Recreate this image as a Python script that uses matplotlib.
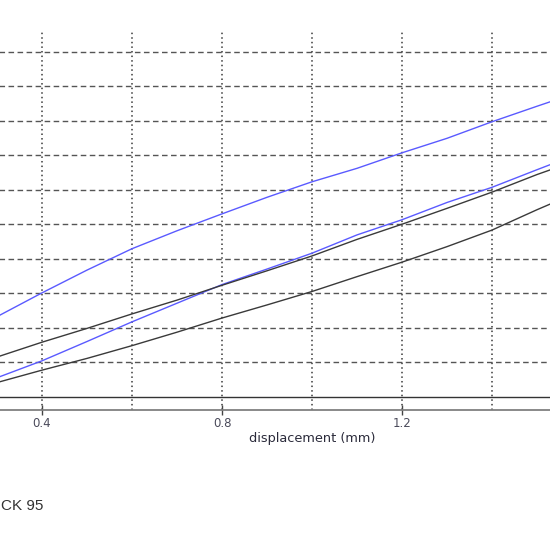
import matplotlib
matplotlib.use("Agg")
import matplotlib.pyplot as plt
from matplotlib.ticker import FixedLocator

# Data (displacement in mm, load in grid units)
disp = [0.30, 0.40, 0.50, 0.60, 0.70, 0.80, 0.90, 1.00, 1.10, 1.20, 1.30, 1.40, 1.50, 1.55]
blue_upper = [2.32, 3.01, 3.67, 4.29, 4.81, 5.30, 5.78, 6.23, 6.62, 7.07, 7.49, 7.97, 8.42, 8.64]
blue_lower = [0.55, 1.04, 1.60, 2.17, 2.71, 3.25, 3.70, 4.16, 4.69, 5.13, 5.63, 6.07, 6.58, 6.83]
black_upper = [1.15, 1.58, 1.98, 2.40, 2.80, 3.23, 3.65, 4.08, 4.56, 5.00, 5.46, 5.93, 6.44, 6.67]
black_lower = [0.41, 0.77, 1.11, 1.48, 1.87, 2.28, 2.66, 3.05, 3.48, 3.90, 4.35, 4.83, 5.42, 5.70]

x_major = [0.4, 0.8, 1.2]
x_labels = ["0.4", "0.8", "1.2"]
x_grid = [0.2, 0.4, 0.6, 0.8, 1.0, 1.2, 1.4, 1.6, 1.8]
y_grid = [1, 2, 3, 4, 5, 6, 7, 8, 9, 10]
xlabel = "displacement (mm)"
caption = "CK 95"

fig = plt.figure(figsize=(5.5, 5.5), dpi=100)
W = 550.0
ax = fig.add_axes([-138 / W, (550 - 409.5) / W, 900 / W, (409.5 - 30) / W])
ax.set_xlim(0, 2.0)
ax.set_ylim(-0.371, 10.63)

for s in ["left", "right", "top"]:
    ax.spines[s].set_visible(False)
ax.spines["bottom"].set_color("#808080")
ax.spines["bottom"].set_linewidth(1.3)

# vertical dotted gridlines
for xv in x_grid:
    ax.axvline(xv, color="#3a3a3a", lw=1.1, ls=(0, (1, 2)), zorder=1)
# horizontal dashed gridlines
for yv in y_grid:
    ax.axhline(yv, color="#555555", lw=1.0, ls=(0, (4, 2.5)), zorder=1)
ax.axhline(0, color="#333333", lw=1.0, zorder=2)

ax.plot(disp, blue_upper, color="#5a5aff", lw=1.0, zorder=3)
ax.plot(disp, blue_lower, color="#5a5aff", lw=1.0, zorder=3)
ax.plot(disp, black_upper, color="#3a3a3a", lw=1.0, zorder=3)
ax.plot(disp, black_lower, color="#3a3a3a", lw=1.0, zorder=3)

ax.xaxis.set_major_locator(FixedLocator(x_major))
ax.set_xticklabels(x_labels)
ax.tick_params(axis="x", direction="inout", length=7, width=1.0, color="#444444",
               labelsize=8.5, labelcolor="#4a4a5a", pad=2)
ax.set_yticks([])
ax.set_xlabel(xlabel, fontsize=9.3, color="#2a2a3a", labelpad=1)

fig.text(1 / W, (550 - 510) / W, caption, ha="left", va="baseline",
         fontsize=11, color="#333333", family=["Liberation Sans"])

fig.savefig("out.png", dpi=100)
